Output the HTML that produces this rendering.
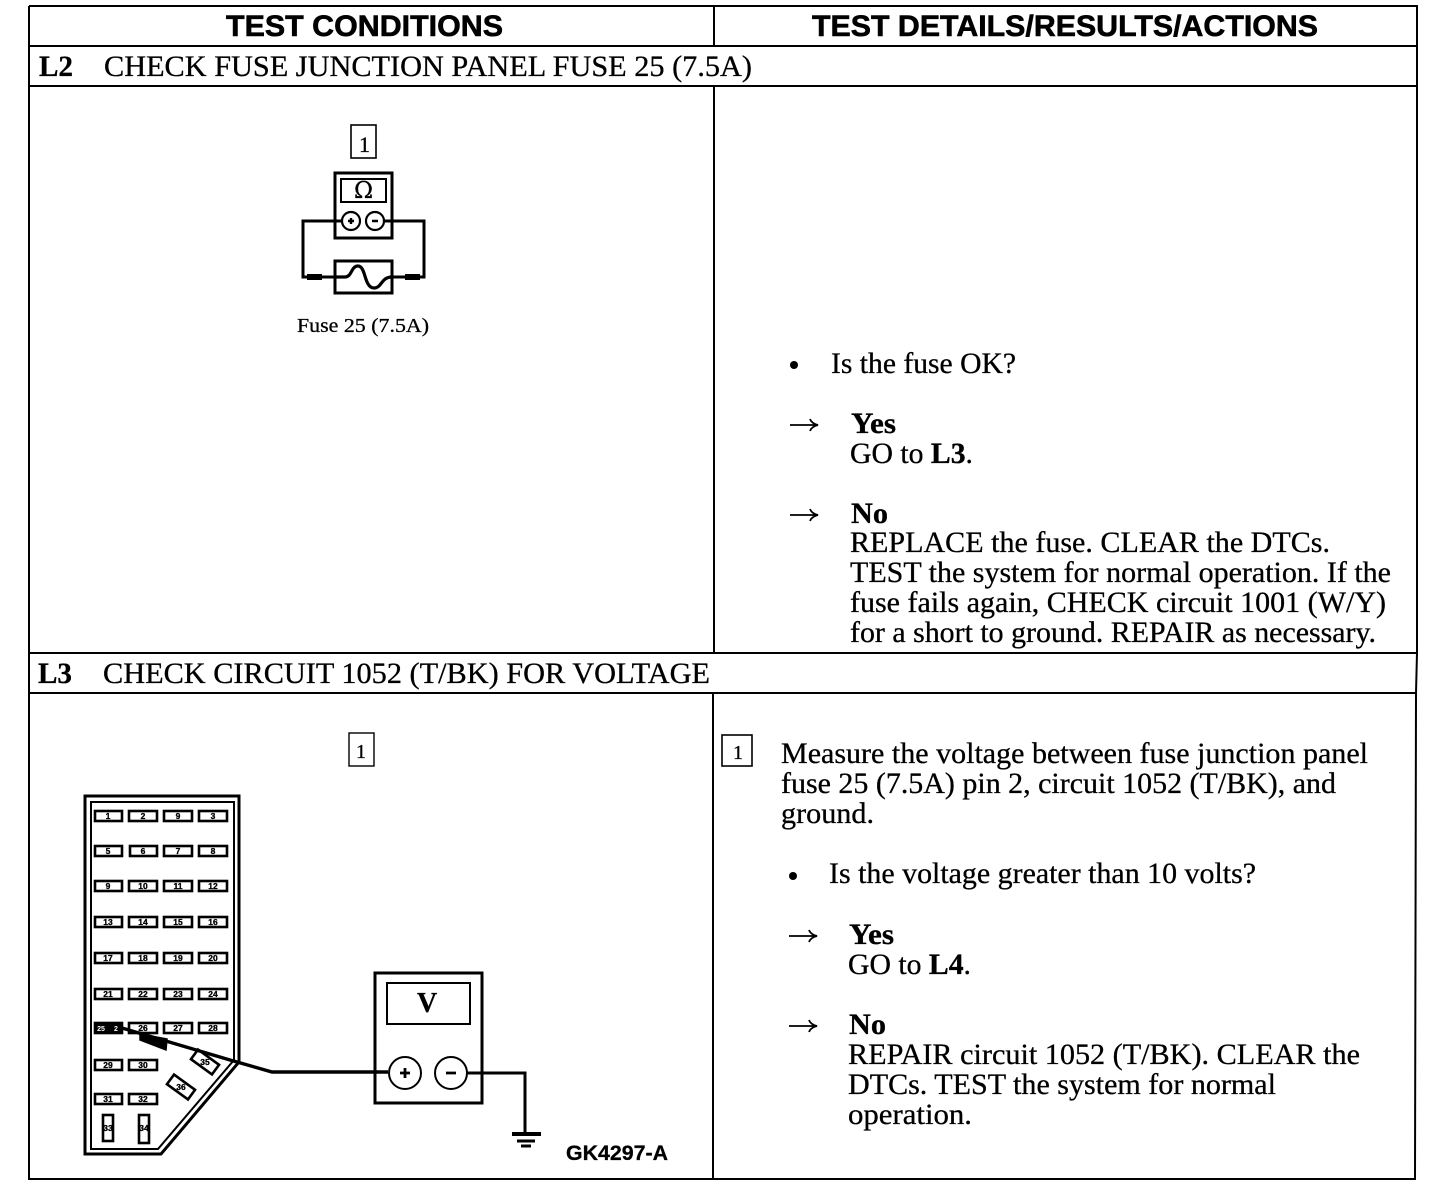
<!DOCTYPE html>
<html><head><meta charset="utf-8"><style>
html,body{margin:0;padding:0;background:#fff;width:1456px;height:1186px;overflow:hidden}
svg{display:block}
text{font-family:"Liberation Serif",serif;font-size:29.5px;fill:#000;stroke:#000;stroke-width:.3}
.h{font-family:"Liberation Sans",sans-serif;font-weight:bold;font-size:30px;stroke-width:.6}
.b{font-weight:bold}
.s{font-size:20px}
.n{font-family:"Liberation Sans",sans-serif;font-weight:bold;font-size:8.5px;stroke-width:.3}
</style></head><body>
<svg width="1456" height="1186" viewBox="0 0 1456 1186" xmlns="http://www.w3.org/2000/svg">
<g stroke="#000" fill="none" stroke-width="2">
<path d="M29 6H1417V653L1416 693L1415 1179H29V6" />
<path d="M29 46H1417M29 86H1417M29 653H1417M29 693H1416" />
<path d="M714 6V46M714 86V653M713 693V1179" />
</g>
<text class="h" x="226" y="36" textLength="277" lengthAdjust="spacingAndGlyphs">TEST CONDITIONS</text>
<text class="h" x="812" y="36" textLength="506" lengthAdjust="spacingAndGlyphs">TEST DETAILS/RESULTS/ACTIONS</text>
<text class="b" x="39" y="76" textLength="34" lengthAdjust="spacingAndGlyphs">L2</text>
<text x="104" y="76" textLength="648" lengthAdjust="spacingAndGlyphs">CHECK FUSE JUNCTION PANEL FUSE 25 (7.5A)</text>
<text class="b" x="38" y="683" textLength="34" lengthAdjust="spacingAndGlyphs">L3</text>
<text x="103" y="683" textLength="607" lengthAdjust="spacingAndGlyphs">CHECK CIRCUIT 1052 (T/BK) FOR VOLTAGE</text>

<!-- arrows -->
<g fill="none" stroke="#000" stroke-width="1.8">
<path d="M790 425H817M810 419C811 422 814 424 818 425C814 426 811 428 810 431"/>
<path d="M790 515H817M810 509C811 512 814 514 818 515C814 516 811 518 810 521"/>
<path d="M789 936H816M809 930C810 933 813 935 817 936C813 937 810 939 809 942"/>
<path d="M789 1026H816M809 1020C810 1023 813 1025 817 1026C813 1027 810 1029 809 1032"/>
</g>

<!-- L2 right -->
<circle cx="794" cy="365" r="4" fill="#000"/>
<text x="831" y="373" textLength="185" lengthAdjust="spacingAndGlyphs">Is the fuse OK?</text>
<text class="b" x="851" y="433" textLength="45" lengthAdjust="spacingAndGlyphs">Yes</text>
<text x="850" y="463" textLength="123" lengthAdjust="spacingAndGlyphs">GO to <tspan class="b">L3</tspan>.</text>
<text class="b" x="851" y="523" textLength="37" lengthAdjust="spacingAndGlyphs">No</text>
<text x="850" y="552" textLength="480" lengthAdjust="spacingAndGlyphs">REPLACE the fuse. CLEAR the DTCs.</text>
<text x="850" y="582" textLength="541" lengthAdjust="spacingAndGlyphs">TEST the system for normal operation. If the</text>
<text x="850" y="612" textLength="536" lengthAdjust="spacingAndGlyphs">fuse fails again, CHECK circuit 1001 (W/Y)</text>
<text x="850" y="642" textLength="526" lengthAdjust="spacingAndGlyphs">for a short to ground. REPAIR as necessary.</text>

<!-- L3 right -->
<rect x="722" y="735" width="30" height="31" fill="none" stroke="#000" stroke-width="1.6"/>
<text class="s" x="733" y="759">1</text>
<text x="781" y="763" textLength="587" lengthAdjust="spacingAndGlyphs">Measure the voltage between fuse junction panel</text>
<text x="781" y="793" textLength="555" lengthAdjust="spacingAndGlyphs">fuse 25 (7.5A) pin 2, circuit 1052 (T/BK), and</text>
<text x="781" y="823" textLength="93" lengthAdjust="spacingAndGlyphs">ground.</text>
<circle cx="793" cy="876" r="4" fill="#000"/>
<text x="829" y="883" textLength="427" lengthAdjust="spacingAndGlyphs">Is the voltage greater than 10 volts?</text>
<text class="b" x="849" y="944" textLength="45" lengthAdjust="spacingAndGlyphs">Yes</text>
<text x="848" y="974" textLength="123" lengthAdjust="spacingAndGlyphs">GO to <tspan class="b">L4</tspan>.</text>
<text class="b" x="849" y="1034" textLength="37" lengthAdjust="spacingAndGlyphs">No</text>
<text x="848" y="1064" textLength="512" lengthAdjust="spacingAndGlyphs">REPAIR circuit 1052 (T/BK). CLEAR the</text>
<text x="848" y="1094" textLength="428" lengthAdjust="spacingAndGlyphs">DTCs. TEST the system for normal</text>
<text x="848" y="1124" textLength="124" lengthAdjust="spacingAndGlyphs">operation.</text>

<!-- L2 diagram -->
<g fill="none" stroke="#000">
<rect x="351" y="125" width="25" height="33" stroke-width="1.6"/>
<rect x="335" y="173" width="57" height="65" stroke-width="3"/>
<rect x="341" y="179" width="45" height="23" stroke-width="2"/>
<circle cx="351" cy="221" r="9" stroke-width="2.2"/>
<circle cx="375" cy="221" r="9" stroke-width="2.2"/>
<path d="M342 221H303V277H335M384 221H424V277H392" stroke-width="3"/>
<path d="M307 277H322M405 277H420" stroke-width="6"/>
<rect x="335" y="261" width="57" height="32" stroke-width="3"/>
<path d="M335 277H345C352 277 351 266 358 266C366 266 364 288 374 288C382 288 381 277 392 277" stroke-width="3.2"/>
<path d="M348 221H354M351 218V224M372 221H378" stroke-width="2.4"/>
</g>
<text x="359" y="152" style="font-size:22px">1</text>
<text x="354" y="198" style="font-size:23px;font-family:'DejaVu Serif',serif">Ω</text>
<text x="297" y="332" style="font-size:20px" textLength="132" lengthAdjust="spacingAndGlyphs">Fuse 25 (7.5A)</text>

<!-- L3 diagram -->
<rect x="349" y="733" width="25" height="33" fill="none" stroke="#000" stroke-width="1.4"/>
<text class="s" x="356" y="758">1</text>

<g fill="none" stroke="#000">
<path d="M85 796H239V1062L161 1154H85Z" stroke-width="3"/>
<path d="M91 802H234V1060L158 1149H91Z" stroke-width="2"/>
<g stroke-width="2.6">
<rect x="95" y="811" width="27" height="10"/><rect x="129" y="811" width="28" height="10"/><rect x="164" y="811" width="28" height="10"/><rect x="199" y="811" width="28" height="10"/>
<rect x="95" y="846" width="27" height="10"/><rect x="130" y="846" width="27" height="10"/><rect x="164" y="846" width="28" height="10"/><rect x="199" y="846" width="28" height="10"/>
<rect x="95" y="881" width="27" height="10"/><rect x="129" y="881" width="28" height="10"/><rect x="164" y="881" width="28" height="10"/><rect x="199" y="881" width="28" height="10"/>
<rect x="95" y="917" width="27" height="10"/><rect x="129" y="917" width="28" height="10"/><rect x="164" y="917" width="28" height="10"/><rect x="199" y="917" width="28" height="10"/>
<rect x="95" y="953" width="27" height="10"/><rect x="129" y="953" width="28" height="10"/><rect x="164" y="953" width="28" height="10"/><rect x="199" y="953" width="28" height="10"/>
<rect x="95" y="989" width="27" height="10"/><rect x="129" y="989" width="28" height="10"/><rect x="164" y="989" width="28" height="10"/><rect x="199" y="989" width="28" height="10"/>
<rect x="95" y="1023" width="27" height="10" fill="#000"/><rect x="129" y="1023" width="28" height="10"/><rect x="164" y="1023" width="28" height="10"/><rect x="199" y="1023" width="28" height="10"/>
<rect x="95" y="1060" width="27" height="10"/><rect x="129" y="1060" width="28" height="10"/>
<rect x="95" y="1094" width="27" height="10"/><rect x="129" y="1094" width="28" height="10"/>
<rect x="103" y="1115" width="10" height="26"/><rect x="139" y="1115" width="10" height="28"/>
<rect x="-13" y="-6" width="26" height="12" transform="translate(205 1062) rotate(36)"/>
<rect x="-13" y="-6" width="26" height="12" transform="translate(181 1087) rotate(36)"/>
</g>
<path d="M122 1028L230 1060L272 1072H388" stroke-width="3.4"/>
<path d="M140 1034L167 1039L166 1050L140 1040Z" fill="#000" stroke-width="1.5"/>
<rect x="375" y="973" width="107" height="130" stroke-width="3"/>
<rect x="387" y="983" width="83" height="41" stroke-width="2"/>
<circle cx="405" cy="1073" r="16" stroke-width="2"/>
<circle cx="451" cy="1073" r="16" stroke-width="2"/>
<path d="M467 1073H525V1134" stroke-width="3"/>
<path d="M512 1134H541" stroke-width="4"/>
<path d="M517 1141H535" stroke-width="3"/>
<path d="M521 1146H531" stroke-width="3"/>
<path d="M400 1073H410M405 1068V1078M446 1073H456" stroke-width="2.8"/>
</g>
<g text-anchor="middle">
<text class="n" x="108" y="819">1</text><text class="n" x="143" y="819">2</text><text class="n" x="178" y="819">9</text><text class="n" x="213" y="819">3</text>
<text class="n" x="108" y="854">5</text><text class="n" x="143" y="854">6</text><text class="n" x="178" y="854">7</text><text class="n" x="213" y="854">8</text>
<text class="n" x="108" y="889">9</text><text class="n" x="143" y="889">10</text><text class="n" x="178" y="889">11</text><text class="n" x="213" y="889">12</text>
<text class="n" x="108" y="925">13</text><text class="n" x="143" y="925">14</text><text class="n" x="178" y="925">15</text><text class="n" x="213" y="925">16</text>
<text class="n" x="108" y="961">17</text><text class="n" x="143" y="961">18</text><text class="n" x="178" y="961">19</text><text class="n" x="213" y="961">20</text>
<text class="n" x="108" y="997">21</text><text class="n" x="143" y="997">22</text><text class="n" x="178" y="997">23</text><text class="n" x="213" y="997">24</text>
<text class="n" x="101" y="1031" style="fill:#fff;stroke:none;font-size:7px">25</text><text class="n" x="116" y="1031" style="fill:#fff;stroke:none;font-size:7px">2</text><text class="n" x="143" y="1031">26</text><text class="n" x="178" y="1031">27</text><text class="n" x="213" y="1031">28</text>
<text class="n" x="108" y="1068">29</text><text class="n" x="143" y="1068">30</text>
<text class="n" x="108" y="1102">31</text><text class="n" x="143" y="1102">32</text>
<text class="n" x="108" y="1131">33</text><text class="n" x="144" y="1131">34</text>
<text class="n" x="205" y="1065">35</text><text class="n" x="181" y="1090">36</text>
</g>
<text x="417" y="1012" class="b" style="font-size:28px">V</text>
<text x="566" y="1160" style="font-family:'Liberation Sans',sans-serif;font-weight:bold;font-size:21px" textLength="102" lengthAdjust="spacingAndGlyphs">GK4297-A</text>
</svg>
</body></html>
